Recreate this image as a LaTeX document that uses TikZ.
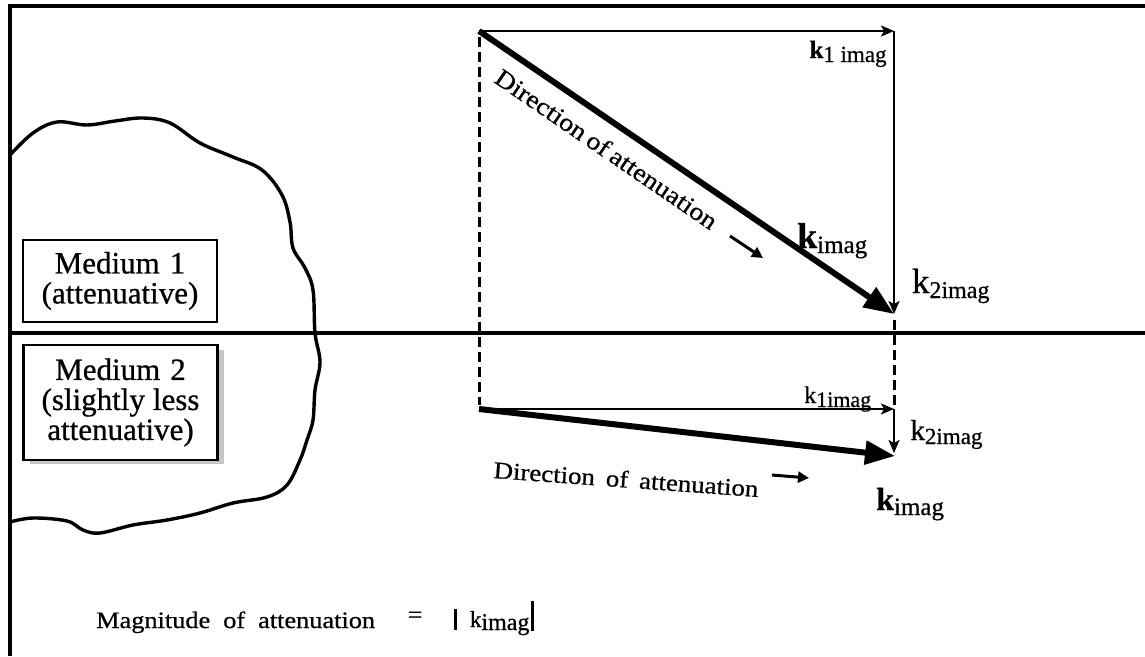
\documentclass[tikz,border=0pt]{standalone}
\usepackage{fontspec}
\setmainfont[FakeBold=0.7]{Liberation Serif}
\newfontfamily\widefont[FakeStretch=1.12,FakeBold=0.7]{Liberation Serif}
\usetikzlibrary{arrows.meta}
\newcommand{\klab}[5]{{\fontsize{#1}{#1}\selectfont#5 k}\raisebox{-#4pt}{\fontsize{#2}{#2}\selectfont #3}}
\begin{document}
\begin{tikzpicture}[x=1pt,y=-1pt,
  frameline/.style={line width=3.4pt},
  blobline/.style={line width=3.4pt,line join=round},
  medbox/.style={draw,line width=2.6pt,minimum width=194pt,inner sep=0pt,align=center,font=\fontsize{31}{30}\selectfont},
  thinarrow/.style={line width=2.3pt,-{Stealth[length=13pt,width=11pt,inset=3pt]}},
  fatarrow/.style={line width=6pt,-{Triangle[length=30pt,width=23pt]}},
  smallarrow/.style={line width=3pt,-{Triangle[length=11pt,width=11pt]}},
  dashline/.style={line width=3pt,dash pattern=on 10pt off 5pt},
  dirtext/.style={font=\widefont\fontsize{25}{26}\selectfont,inner sep=0pt},
  lab/.style={inner sep=0pt},
]
\useasboundingbox (0,0) rectangle (1145,656);
% frame
\coordinate (TR) at (1145,6);
\coordinate (TL) at (10,6);
\coordinate (BL) at (10,656);
\coordinate (ML) at (10,333);
\coordinate (MR) at (1145,333);
\draw[frameline] (TR) -- (TL) -- (BL);
\draw[frameline] (ML) -- (MR);
% blob
\draw[blobline] plot[smooth,tension=0.6] coordinates {
 (10,155) (33,133) (57,122) (87,125) (115,121) (143,118) (170,123) (200,143)
 (233,157) (262,170) (282,195) (290,222) (293,248) (305,268) (313,290)
 (315,333) (320,362) (315,390) (313,420) (307,440) (300,460) (287,485)
 (267,497) (233,503) (200,513) (167,520) (133,525) (100,533) (83,530)
 (67,521) (33,518) (10,522)};
% medium boxes
\fill[gray!45] (219,350) rectangle (224,462);
\fill[gray!45] (30,460) rectangle (224,464);
\node[medbox,fill=white,minimum height=82pt] (m1) at (120,281) {Medium\hspace{10pt}1\\(attenuative)};
\node[medbox,fill=white,minimum height=115pt] (m2) at (120.5,402.5) {Medium\hspace{10pt}2\\(slightly\hspace{8pt}less\\attenuative)};
% vectors
\coordinate (O1) at (479,31);
\coordinate (A1) at (894,31);
\coordinate (B1) at (894,314);
\coordinate (O1d) at (479,37);
\coordinate (B1d) at (894,320);
\coordinate (O2) at (479,409);
\coordinate (A2) at (894,409);
\coordinate (A2d) at (894,405);
\coordinate (O2d) at (479,405);
\coordinate (B2) at (894,453);
\coordinate (C2) at (895,456);
\draw[dashline] (O1d) -- (O2d);
\draw[dashline] (B1d) -- (A2d);
\draw[thinarrow] (O1) -- (A1);
\draw[thinarrow] (A1) -- (B1);
\draw[fatarrow] (O1) -- (B1);
\draw[thinarrow] (O2) -- (A2);
\draw[thinarrow] (A2) -- (B2);
\draw[fatarrow] (O2) -- (C2);
% direction texts
\node[dirtext,anchor=base west,rotate=-34.4] (dir1) at (492.8,81.6) {Direction\hspace{5pt}of\hspace{5pt}attenuation};
\coordinate (sa1) at (730,236);
\coordinate (sb1) at (763,258);
\draw[smallarrow] (sa1) -- (sb1);
\node[dirtext,anchor=base west,rotate=-4.1,font=\widefont\fontsize{24}{25}\selectfont] (dir2) at (493,478) {Direction\hspace{11pt}of\hspace{11pt}attenuation};
\coordinate (sa2) at (772,475);
\coordinate (sb2) at (809,478);
\draw[smallarrow] (sa2) -- (sb2);
% labels
\node[lab,anchor=base west] (k1top) at (803,58) {\klab{25}{23}{1 imag}{4}{\bfseries}};
\node[lab,anchor=base west] (kdiag) at (788,248) {\klab{36}{25}{imag}{5}{\bfseries}};
\node[lab,anchor=base west] (k2top) at (903,293) {\klab{35}{24}{2imag}{5}{\relax}};
\node[lab,anchor=base west] (k1low) at (798,403) {\klab{24}{22}{1imag}{4}{\relax}};
\node[lab,anchor=base west] (k2low) at (903,440) {\klab{29}{23}{2imag}{4}{\relax}};
\node[lab,anchor=base west] (kbot) at (868,510) {\klab{32}{25}{imag}{5}{\bfseries}};
% magnitude
\node[lab,anchor=base west,font=\widefont\fontsize{23.5}{24}\selectfont] (mag) at (96,628) {Magnitude\hspace{13pt}of\hspace{13pt}attenuation};
\node[lab,font=\widefont\fontsize{23}{24}\selectfont] (eq) at (415,617) {=};
\node[lab,anchor=base west] (kmag) at (464,627) {\klab{23}{24}{imag}{3}{\relax}};
\coordinate (bl1) at (455,609);
\coordinate (bl2) at (455,630);
\coordinate (br1) at (532,601);
\coordinate (br2) at (532,631);
\draw[line width=3pt] (bl1) -- (bl2);
\draw[line width=3pt] (br1) -- (br2);
\end{tikzpicture}
\end{document}
